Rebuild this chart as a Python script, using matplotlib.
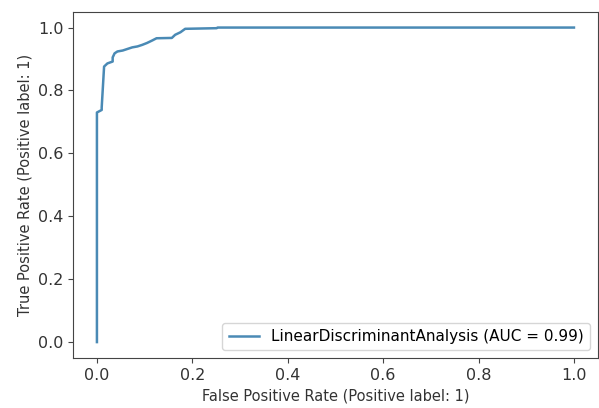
import matplotlib.pyplot as plt
import numpy as np

# ROC curve points
fpr = [0.0, 0.0, 0.010, 0.010, 0.015, 0.022, 0.033, 0.033, 0.037, 0.043, 0.054,
       0.064, 0.074, 0.085, 0.095, 0.105, 0.116, 0.125, 0.157, 0.164, 0.175,
       0.185, 0.251, 0.253, 1.0]
tpr = [0.0, 0.730, 0.738, 0.746, 0.876, 0.886, 0.892, 0.905, 0.918, 0.924, 0.927,
       0.932, 0.937, 0.940, 0.945, 0.951, 0.959, 0.966, 0.967, 0.977, 0.985,
       0.996, 0.998, 1.0, 1.0]
auc_label = 'LinearDiscriminantAnalysis (AUC = 0.99)'

fig = plt.figure(figsize=(5.99, 4.08), dpi=100)
ax = fig.add_axes([0.122, 0.123, 0.876, 0.848])
ax.plot(fpr, tpr, color='#4a8ab5', lw=1.8, label=auc_label)
ax.set_xlabel('False Positive Rate (Positive label: 1)', fontsize=10.5, color='#333333')
ax.set_ylabel('True Positive Rate (Positive label: 1)', fontsize=10.5, color='#333333')
ax.set_xticks(np.arange(0, 1.01, 0.2))
ax.set_yticks(np.arange(0, 1.01, 0.2))
ax.tick_params(labelsize=11.5, labelcolor='#333333', color='#444444')
for s in ax.spines.values():
    s.set_color('#444444')
ax.legend(loc='lower right', fontsize=11)

fig.savefig('out.png', dpi=100)
